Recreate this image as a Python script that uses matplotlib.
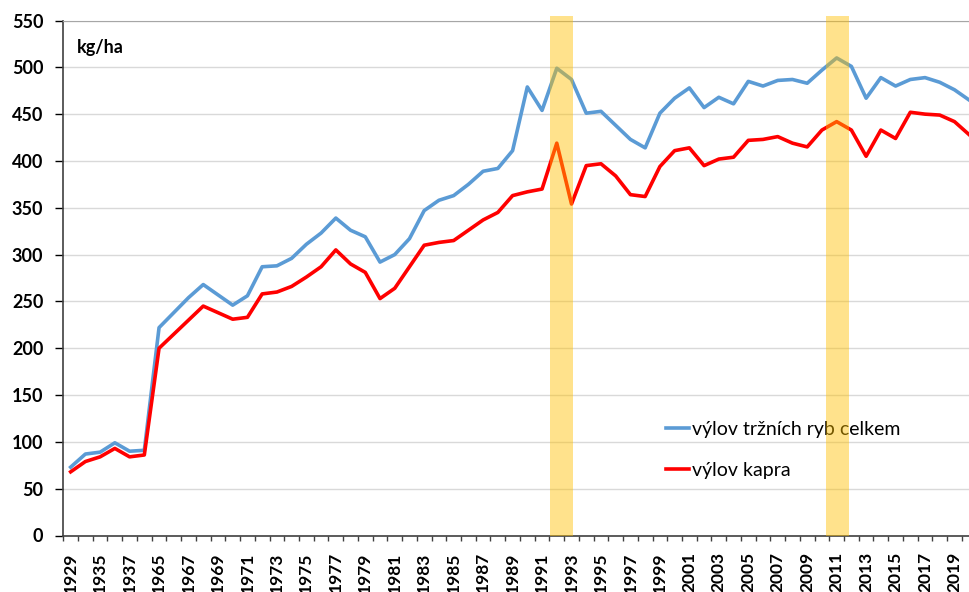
import matplotlib
matplotlib.use('Agg')
import matplotlib.pyplot as plt
import numpy as np

plt.rcParams['font.family'] = ['Lato', 'DejaVu Sans']

# kategorie na ose x
years = ['1929', '1933', '1935', '1936', '1937', '1938'] + [str(y) for y in range(1965, 2021)]

# výlov tržních ryb celkem (kg/ha)
total = [73, 87, 89, 99, 90, 91,
         222, 238, 254, 268, 257, 246, 256, 287, 288, 296,
         311, 323, 339, 326, 319, 292, 300, 317, 347, 358,
         363, 375, 389, 392, 411, 479, 454, 499, 487, 451,
         453, 438, 423, 414, 451, 467, 478, 457, 468, 461,
         485, 480, 486, 487, 483, 497, 510, 501, 467, 489,
         480, 487, 489, 484, 476, 465]

# výlov kapra (kg/ha)
carp = [68, 79, 84, 93, 84, 86,
        200, 215, 230, 245, 238, 231, 233, 258, 260, 266,
        276, 287, 305, 290, 281, 253, 264, 287, 310, 313,
        315, 326, 337, 345, 363, 367, 370, 419, 354, 395,
        397, 384, 364, 362, 394, 411, 414, 395, 402, 404,
        422, 423, 426, 419, 415, 433, 442, 433, 405, 433,
        424, 452, 450, 449, 442, 428]

# zvýrazněná období (1992-1993, 2011)
highlight = [('1992', '1993'), ('2011', '2012')]

fig = plt.figure(figsize=(9.69, 5.92), dpi=100)
ax = fig.add_axes([63.3 / 969, 56.5 / 592, 913.3 / 969, 515 / 592])

x = np.arange(len(years))
ax.plot(x, total, color='#5B9BD5', lw=2.6, label='výlov tržních ryb celkem', zorder=3)
ax.plot(x, carp, color='#FF0000', lw=2.6, label='výlov kapra', zorder=3)

# žluté pruhy
spans = [(years.index(a) - 0.46, years.index(b) + 0.1) for a, b in highlight]
spans[1] = (years.index('2011') - 0.72, years.index('2011') + 0.84)
for x0, x1 in spans:
    r = ax.axvspan(x0, x1, ymin=0, ymax=1.008, color='#FFC000', alpha=0.45,
                   lw=0, zorder=6)
    r.set_clip_on(False)

ax.set_xlim(-0.5, len(years) - 0.5)
ax.set_ylim(0, 550)
ax.set_yticks(np.arange(0, 551, 50))
ax.yaxis.grid(True, color='#D9D9D9', lw=1)
ax.set_axisbelow(True)

ax.set_xticks(x[::2])
ax.set_xticklabels(years[::2], rotation=90, fontweight='bold', fontsize=12.5)
ax.set_xticks(np.arange(-0.5, len(years), 1), minor=True)
ax.tick_params(axis='x', which='major', length=0, pad=12)
ax.tick_params(axis='x', which='minor', direction='out', length=3.5, width=1, color='#404040')
ax.tick_params(axis='y', direction='out', length=5.8, width=1, pad=8.5, labelsize=13)
for lab in ax.get_yticklabels():
    lab.set_fontweight('bold')

ax.spines['left'].set_color('#404040')
ax.spines['bottom'].set_color('#404040')
ax.spines['left'].set_linewidth(1.2)
ax.spines['bottom'].set_linewidth(1.2)
ax.spines['top'].set_color('#A6A6A6')
ax.spines['right'].set_visible(False)

fig.text(77 / 969, 1 - 48 / 592, 'kg/ha', fontsize=13, fontweight='bold', va='center')

leg = ax.legend(loc='upper left', bbox_to_anchor=(0.66, 0.222), frameon=False,
                fontsize=14, handlelength=1.2, handletextpad=0.15,
                labelspacing=1.2, borderpad=0, borderaxespad=0)
leg.set_zorder(4)

fig.savefig('out.png', dpi=100)
